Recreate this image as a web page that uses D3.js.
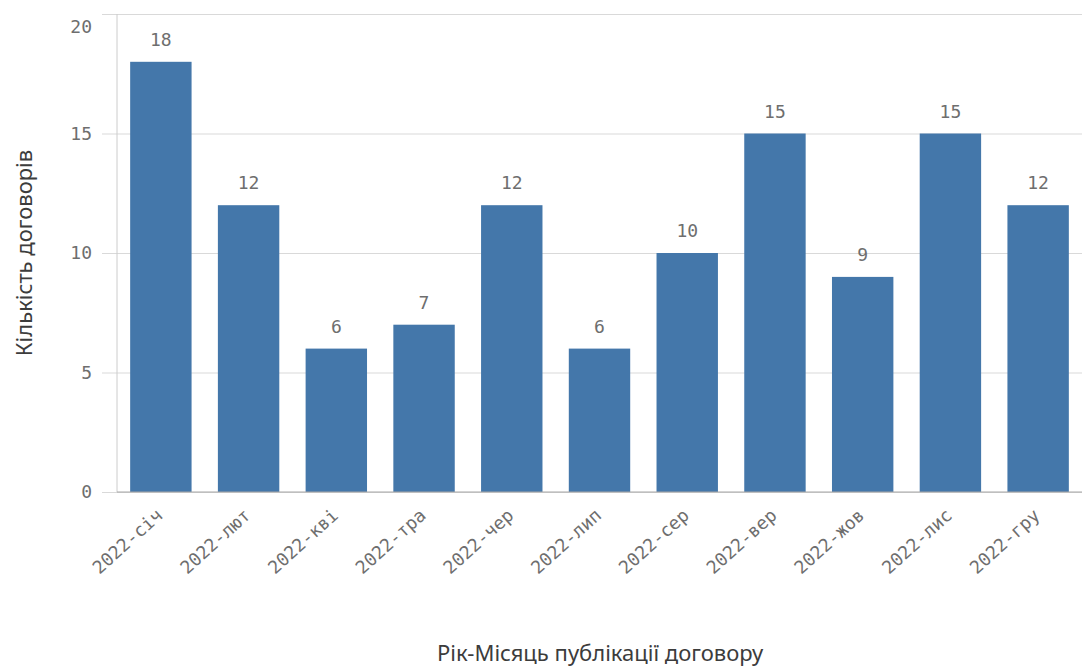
<!DOCTYPE html>
<html>
<head>
<meta charset="utf-8">
<script src="https://cdn.jsdelivr.net/npm/d3@7"></script>
<style>
  body { margin: 0; background: #fff; }
  svg { display: block; }
  .num { font-family: "DejaVu Sans Mono", monospace; font-size: 18px; fill: #6e6e6e; }
  .title { font-family: "Noto Sans", "DejaVu Sans", sans-serif; font-size: 22px; fill: #3c3c3c; }
</style>
</head>
<body>
<div id="chart"></div>
<script>
// chart data
var months = ['2022-січ', '2022-лют', '2022-кві', '2022-тра', '2022-чер', '2022-лип',
  '2022-сер', '2022-вер', '2022-жов', '2022-лис', '2022-гру']
var counts = [18, 12, 6, 7, 12, 6, 10, 15, 9, 15, 12]
var yTicks = [0, 5, 10, 15, 20]

var width = 1084
var height = 668
var margin = { top: 14, right: 2, bottom: 176, left: 117 }

var svg = d3.select('#chart').append('svg')
  .attr('width', width)
  .attr('height', height)

var xScale = d3.scaleBand()
  .domain(months)
  .range([margin.left, width - margin.right])
  .paddingInner(0.3)
  .paddingOuter(0.15)

var yScale = d3.scaleLinear()
  .domain([0, 20])
  .range([height - margin.bottom, margin.top])

// gridlines + y labels
var yAxis = d3.axisLeft(yScale)
  .tickValues(yTicks)
  .tickSize(-(width - margin.right - margin.left))
  .tickFormat(d => d)

var gy = svg.append('g')
  .attr('transform', 'translate(' + margin.left + ',0)')
  .call(yAxis)
gy.select('.domain').remove()
gy.selectAll('.tick line')
  .attr('x1', -15)
  .attr('stroke', '#d9d9d9')
gy.selectAll('.tick text')
  .attr('class', 'num')
  .attr('x', -25)
  // top label is pushed down so it stays inside the chart
  .attr('dy', d => d === 20 ? '1em' : '0.32em')

// vertical axis line
svg.append('line')
  .attr('x1', margin.left).attr('x2', margin.left)
  .attr('y1', yScale(20)).attr('y2', yScale(0))
  .attr('stroke', '#cccccc')

// bars
svg.selectAll('rect.bar')
  .data(counts)
  .enter().append('rect')
  .attr('class', 'bar')
  .attr('x', (d, i) => xScale(months[i]))
  .attr('y', d => yScale(d))
  .attr('width', xScale.bandwidth())
  .attr('height', d => yScale(0) - yScale(d))
  .attr('fill', '#4477aa')

// value labels
svg.selectAll('text.val')
  .data(counts)
  .enter().append('text')
  .attr('class', 'num val')
  .attr('text-anchor', 'middle')
  .attr('x', (d, i) => xScale(months[i]) + xScale.bandwidth() / 2)
  .attr('y', d => yScale(d) - 16)
  .text(d => d)

// baseline
svg.append('line')
  .attr('x1', margin.left).attr('x2', width - margin.right)
  .attr('y1', yScale(0)).attr('y2', yScale(0))
  .attr('stroke', '#a6a6a6')

// x labels
var xAxis = d3.axisBottom(xScale).tickSize(0)
var gx = svg.append('g')
  .attr('transform', 'translate(0,' + yScale(0) + ')')
  .call(xAxis)
gx.select('.domain').remove()
gx.selectAll('.tick text')
  .attr('class', 'num')
  .attr('text-anchor', 'end')
  .attr('dy', null)
  .attr('y', 0)
  .attr('transform', 'translate(3,25) rotate(-42)')

// axis titles
svg.append('text')
  .attr('class', 'title')
  .attr('text-anchor', 'middle')
  .attr('x', 600)
  .attr('y', 661)
  .text('Рік-Місяць публікації договору')

svg.append('text')
  .attr('class', 'title')
  .attr('text-anchor', 'middle')
  .attr('transform', 'translate(32,' + (margin.top + (yScale(0) - margin.top) / 2) + ') rotate(-90)')
  .text('Кількість договорів')
</script>
</body>
</html>
